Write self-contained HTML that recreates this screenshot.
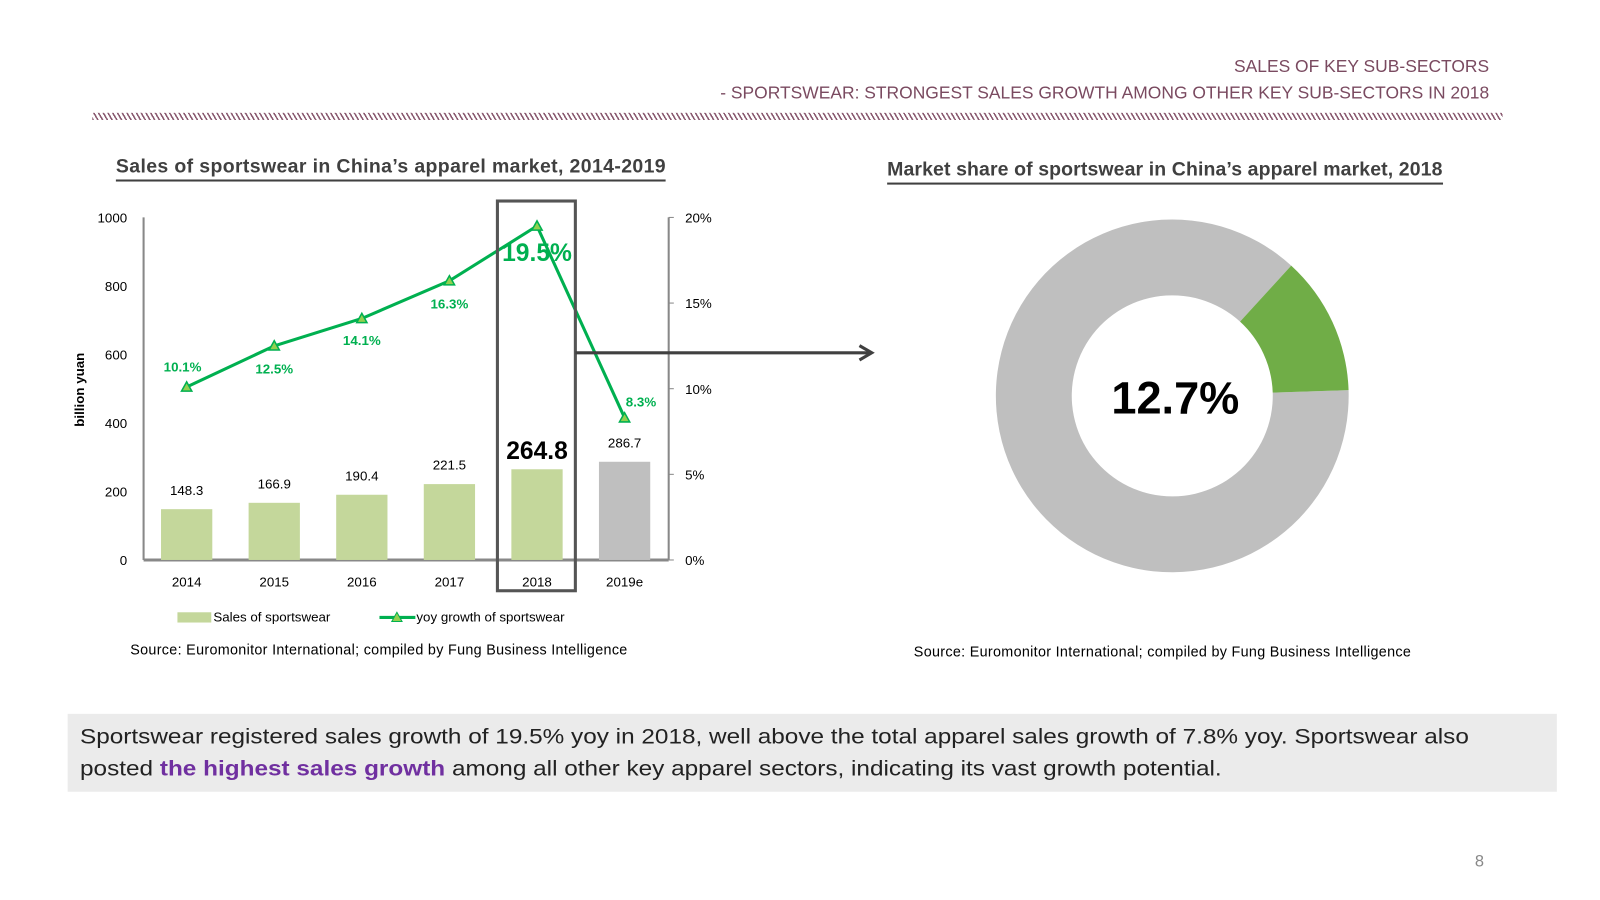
<!DOCTYPE html>
<html><head><meta charset="utf-8"><style>
body{margin:0;width:1600px;height:900px;overflow:hidden;background:#fff;font-family:"Liberation Sans",sans-serif}
#w{position:absolute;left:0;top:0;width:1560px;height:877px;transform:scale(1.0256);transform-origin:0 0}
.t{position:absolute;white-space:nowrap}
</style></head><body>
<div id="w">
<div class="t" style="right:108px;top:55px;font-size:17px;color:#7a4a60">SALES OF KEY SUB-SECTORS</div>
<div class="t" style="right:108px;top:81px;font-size:17px;color:#7a4a60">- SPORTSWEAR: STRONGEST SALES GROWTH AMONG OTHER KEY SUB-SECTORS IN 2018</div>
<div style="position:absolute;left:90px;top:110px;width:1375px;height:7px;background:repeating-linear-gradient(60deg,#8a5a70 0 1.5px,transparent 1.5px 4px)"></div>
<div class="t" style="left:113px;top:152px;font-size:19px;letter-spacing:0.35px;font-weight:bold;color:#404040;border-bottom:2px solid #404040;padding-bottom:1px">Sales of sportswear in China’s apparel market, 2014-2019</div>
<div class="t" style="left:865px;top:155px;font-size:19px;letter-spacing:0.1px;font-weight:bold;color:#404040;border-bottom:2px solid #404040;padding-bottom:1px">Market share of sportswear in China’s apparel market, 2018</div>
<svg id="c" width="1560" height="877" style="position:absolute;left:0;top:0"></svg>
<div class="t" style="left:127px;top:625px;font-size:14px;letter-spacing:0.3px;color:#000">Source: Euromonitor International; compiled by Fung Business Intelligence</div>
<div class="t" style="left:891px;top:627px;font-size:14px;letter-spacing:0.3px;color:#000">Source: Euromonitor International; compiled by Fung Business Intelligence</div>
<div style="position:absolute;left:66px;top:696px;width:1452px;height:76px;background:#ebebeb;padding-left:12px;box-sizing:border-box;font-size:21px;line-height:31px;color:#222;white-space:nowrap"><div style="padding-top:7px;transform:scaleX(1.13);transform-origin:0 0">Sportswear registered sales growth of 19.5% yoy in 2018, well above the total apparel sales growth of 7.8% yoy. Sportswear also<br>posted <b style="color:#7030a0">the highest sales growth</b> among all other key apparel sectors, indicating its vast growth potential.</div></div>
<div class="t" style="left:1438px;top:832px;font-size:16px;color:#888">8</div>
</div>
<script>
const categories=["2014","2015","2016","2017","2018","2019e"];
const sales=[148.3,166.9,190.4,221.5,264.8,286.7];
const growth=[10.1,12.5,14.1,16.3,19.5,8.3];
const leftTicks=[0,200,400,600,800,1000];
const rightTicks=[0,5,10,15,20];
const share=12.7;
const NS="http://www.w3.org/2000/svg",svg=document.getElementById('c');
function mk(t,a,txt){const e=document.createElementNS(NS,t);for(const k in a)e.setAttribute(k,a[k]);if(txt!==undefined)e.textContent=txt;svg.appendChild(e);return e;}
const x0=140,x1=652,yb=546,yt=212;
const xs=i=>182+i*85.4;
const yL=v=>yb-(v/1000)*(yb-yt);
const yR=v=>yb-(v/20)*(yb-yt);
const F='"Liberation Sans",sans-serif';
let e;
e=mk('line',{x1:x0,y1:yt,x2:x0,y2:yb,stroke:'#888','stroke-width':2});

e=mk('line',{x1:x1,y1:yt,x2:x1,y2:yb,stroke:'#888','stroke-width':2});

e=mk('line',{x1:x0,y1:yb,x2:x1,y2:yb,stroke:'#888','stroke-width':3});

leftTicks.forEach(v=>{e=mk('text',{x:124,y:yL(v)+5,'text-anchor':'end','font-size':13,'font-family':F},v);
});
rightTicks.forEach(v=>{mk('line',{x1:x1,y1:yR(v),x2:x1+5,y2:yR(v),stroke:'#888'});
e=mk('text',{x:668,y:yR(v)+5,'font-size':13,'font-family':F},v+'%');
});
e=mk('text',{transform:'translate(82,380) rotate(-90)','text-anchor':'middle','font-size':13,'font-weight':'bold','font-family':F},'billion yuan');

categories.forEach((c,i)=>{
 e=mk('rect',{x:xs(i)-25,y:yL(sales[i]),width:50,height:yb-yL(sales[i]),fill:i==5?'#bfbfbf':'#c4d79b'});
 
 e=mk('text',{x:xs(i),y:572,'text-anchor':'middle','font-size':13,'font-family':F},c);
 
 const big=i==4;
 e=mk('text',{x:xs(i),y:yL(sales[i])-(big?10:14),'text-anchor':'middle','font-size':big?24:13,'font-weight':big?'bold':'normal','font-family':F},sales[i].toFixed(1));
 
});
e=mk('polyline',{points:growth.map((g,i)=>xs(i)+','+yR(g)).join(' '),fill:'none',stroke:'#00b050','stroke-width':3});

const loff=[[-4,-15],[0,27],[0,26],[0,27],[0,34],[16,-11]];
growth.forEach((g,i)=>{
 const x=xs(i),y=yR(g);
 e=mk('polygon',{points:`${x-5},${y+4} ${x+5},${y+4} ${x},${y-5}`,fill:'#92d050',stroke:'#00b050','stroke-width':1.5});
 
 const big=i==4;
 e=mk('text',{x:x+loff[i][0],y:y+loff[i][1],'text-anchor':'middle','font-size':big?24:13,'font-weight':'bold',fill:'#00b050','font-family':F},g.toFixed(1)+'%');
 
});
e=mk('rect',{x:485,y:196,width:76,height:380,fill:'none',stroke:'#555','stroke-width':3});

e=mk('line',{x1:561,y1:344,x2:848,y2:344,stroke:'#404040','stroke-width':3});

mk('polyline',{points:'838,337 850,344 838,351',fill:'none',stroke:'#404040','stroke-width':3});
e=mk('rect',{x:173,y:597,width:33,height:10,fill:'#c4d79b'});
mk('text',{x:208,y:606,'font-size':13,'font-family':F},'Sales of sportswear');
e=mk('line',{x1:370,y1:602,x2:405,y2:602,stroke:'#00b050','stroke-width':3});
mk('polygon',{points:'382,606 392,606 387,597',fill:'#92d050',stroke:'#00b050'});
mk('text',{x:406,y:606,'font-size':13,'font-family':F},'yoy growth of sportswear');
const cx=1143,cy=386,R=172,r=98,start=42.4*Math.PI/180,span=share/100*2*Math.PI;
function arc(a0,a1){const p=(a,rr)=>[cx+rr*Math.sin(a),cy-rr*Math.cos(a)];const L=(a1-a0)>Math.PI?1:0;
const [a,b]=p(a0,R),[c,d]=p(a1,R),[e1,f]=p(a1,r),[g,h]=p(a0,r);
return `M${a},${b}A${R},${R} 0 ${L} 1 ${c},${d}L${e1},${f}A${r},${r} 0 ${L} 0 ${g},${h}Z`;}
e=mk('path',{d:arc(start+span,start+2*Math.PI),fill:'#bfbfbf'});
e=mk('path',{d:arc(start,start+span),fill:'#70ad47'});
e=mk('text',{x:cx+3,y:403,'text-anchor':'middle','font-size':44,'font-weight':'bold','font-family':F},share.toFixed(1)+'%');

</script>
</body></html>
